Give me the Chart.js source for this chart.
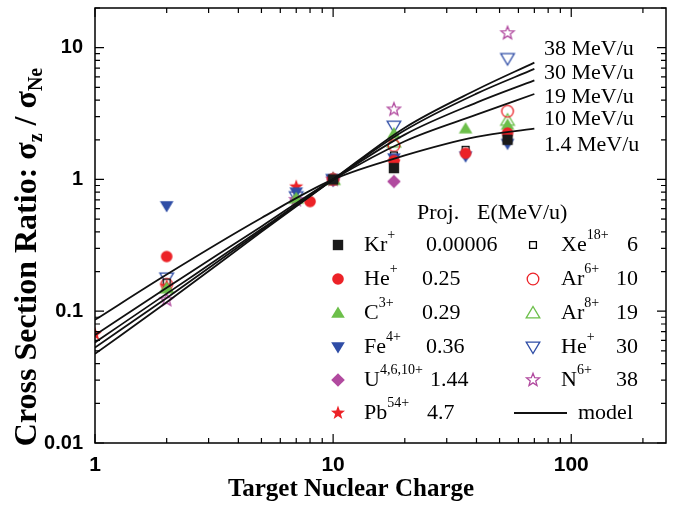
<!DOCTYPE html>
<html>
<head>
<meta charset="utf-8">
<script src="https://cdn.jsdelivr.net/npm/chart.js@4.4.0/dist/chart.umd.min.js"></script>
<style>
  html, body { margin: 0; padding: 0; background: #fff; }
</style>
</head>
<body>
<canvas id="chart" width="677" height="508"></canvas>
<script>
// --- data ---
const modelX = [1, 2, 5, 10, 20, 40, 70];
const model14 = [0.086, 0.19, 0.51, 1, 1.52, 2.1, 2.43];
const model10 = [0.066, 0.151, 0.44, 1, 1.95, 3.1, 4.45];
const model19 = [0.058, 0.136, 0.42, 1, 2.19, 3.83, 5.65];
const model30 = [0.053, 0.126, 0.41, 1, 2.36, 4.48, 6.9];
const model38 = [0.0475, 0.117, 0.40, 1, 2.47, 4.79, 7.7];
const modelLabels = ['1.4 MeV/u', '10 MeV/u', '19 MeV/u', '30 MeV/u', '38 MeV/u'];

const krX = [10, 18, 54];           const krY = [1, 1.22, 2.0];
const heLowX = [2, 8, 10, 18, 36, 54]; const heLowY = [0.26, 0.68, 1, 1.39, 1.58, 2.25];
const cX = [2, 7, 10, 18, 36, 54];   const cY = [0.15, 0.72, 1, 2.23, 2.43, 2.6];
const feX = [2, 7, 10, 18, 36, 54];  const feY = [0.63, 0.80, 1, 1.45, 1.5, 1.87];
const uX = [7, 10, 18];              const uY = [0.70, 1, 0.965];
const pbX = [1, 2, 7, 10, 18];       const pbY = [0.067, 0.155, 0.88, 1, 1.35];
const xeX = [2, 10, 18, 36, 54];     const xeY = [0.165, 1, 1.52, 1.68, 2.12];
const ar6X = [2, 10, 18, 54];        const ar6Y = [0.16, 1, 1.81, 3.29];
const ar8X = [2, 7, 10, 18, 54];     const ar8Y = [0.15, 0.72, 1, 1.92, 2.81];
const heHiX = [2, 7, 10, 18, 54];    const heHiY = [0.179, 0.74, 1, 2.54, 8.28];
const nX = [2, 7, 10, 18, 54];       const nY = [0.122, 0.70, 1, 3.4, 12.9];

const projNames = ['Kr', 'He', 'C', 'Fe', 'U', 'Pb', 'Xe', 'Ar', 'Ar', 'He', 'N'];
const projCharges = ['+', '+', '3+', '4+', '4,6,10+', '54+', '18+', '6+', '8+', '+', '6+'];
const projEnergies = ['0.00006', '0.25', '0.29', '0.36', '1.44', '4.7', '6', '10', '19', '30', '38'];

const RED = '#ec2227', GREEN = '#6cbf4a', BLUE = '#2f4da6', MAGENTA = '#b14a9f', BLACK = '#1a1a1a';
const SERIF = '"Liberation Serif", "DejaVu Serif", serif';
const SANS = '"Liberation Sans", Arial, sans-serif';

// --- marker drawing ---
function drawMarker(ctx, shape, x, y, color, filled) {
    ctx.save();
    ctx.fillStyle = color;
    ctx.strokeStyle = color;
    ctx.lineWidth = 1.3;
    ctx.beginPath();
    switch (shape) {
        case 'square': {
            const s = filled ? 5.2 : 3.4;
            ctx.rect(x - s, y - s, 2 * s, 2 * s);
            break;
        }
        case 'circle':
            ctx.arc(x, y, 5.8, 0, Math.PI * 2);
            break;
        case 'up':
            ctx.moveTo(x - 6.8, y + 4.8);
            ctx.lineTo(x + 6.8, y + 4.8);
            ctx.lineTo(x, y - 6.6);
            ctx.closePath();
            break;
        case 'down':
            ctx.moveTo(x - 6.8, y - 4.8);
            ctx.lineTo(x + 6.8, y - 4.8);
            ctx.lineTo(x, y + 6.6);
            ctx.closePath();
            break;
        case 'diamond':
            ctx.moveTo(x, y - 6.8);
            ctx.lineTo(x + 6.8, y);
            ctx.lineTo(x, y + 6.8);
            ctx.lineTo(x - 6.8, y);
            ctx.closePath();
            break;
        case 'star': {
            const ro = filled ? 7.4 : 6.8, ri = filled ? 3.0 : 2.9;
            for (let i = 0; i < 10; i++) {
                const r = i % 2 === 0 ? ro : ri;
                const a = -Math.PI / 2 + i * Math.PI / 5;
                const px = x + r * Math.cos(a), py = y + r * Math.sin(a);
                if (i === 0) ctx.moveTo(px, py); else ctx.lineTo(px, py);
            }
            ctx.closePath();
            break;
        }
    }
    if (filled) {
        ctx.fill();
    } else {
        if (shape === 'square') {
            ctx.fillStyle = '#fff';
            ctx.fill();
            ctx.strokeStyle = '#000';
        }
        ctx.stroke();
    }
    ctx.restore();
}

function markerCanvas(shape, color, filled) {
    const cv = document.createElement('canvas');
    cv.width = 20;
    cv.height = 20;
    drawMarker(cv.getContext('2d'), shape, 10, 10, color, filled);
    return cv;
}

function pts(xs, ys) {
    return xs.map((x, i) => ({ x: x, y: ys[i] }));
}

// series: marker shape/colour/fill, same order as the legend arrays
const seriesDefs = [
    { xs: krX, ys: krY, shape: 'square', color: BLACK, filled: true },
    { xs: heLowX, ys: heLowY, shape: 'circle', color: RED, filled: true },
    { xs: cX, ys: cY, shape: 'up', color: GREEN, filled: true },
    { xs: feX, ys: feY, shape: 'down', color: BLUE, filled: true },
    { xs: uX, ys: uY, shape: 'diamond', color: MAGENTA, filled: true },
    { xs: pbX, ys: pbY, shape: 'star', color: RED, filled: true },
    { xs: xeX, ys: xeY, shape: 'square', color: '#000', filled: false },
    { xs: ar6X, ys: ar6Y, shape: 'circle', color: RED, filled: false },
    { xs: ar8X, ys: ar8Y, shape: 'up', color: GREEN, filled: false },
    { xs: heHiX, ys: heHiY, shape: 'down', color: BLUE, filled: false },
    { xs: nX, ys: nY, shape: 'star', color: MAGENTA, filled: false }
];

const datasets = [];
seriesDefs.forEach((s, i) => {
    datasets.push({
        type: 'scatter',
        label: projNames[i] + projCharges[i],
        data: pts(s.xs, s.ys),
        pointStyle: markerCanvas(s.shape, s.color, s.filled),
        pointRadius: 7,
        showLine: false,
        order: 2
    });
});
[model14, model10, model19, model30, model38].forEach((m, i) => {
    datasets.push({
        type: 'line',
        label: modelLabels[i],
        data: pts(modelX, m),
        borderColor: '#111',
        borderWidth: 1.8,
        pointRadius: 0,
        fill: false,
        cubicInterpolationMode: 'monotone',
        order: 1
    });
});

// draws text parts with superscripts / subscripts
function drawRich(ctx, x, y, parts, size, weight) {
    let cx = x;
    parts.forEach(p => {
        const sz = p.sup || p.sub ? Math.round(size * 0.62) : size;
        ctx.font = `${weight} ${sz}px ${SERIF}`;
        const dy = p.sup ? -size * 0.42 : (p.sub ? size * 0.28 : 0);
        ctx.fillText(p.t, cx, y + dy);
        cx += ctx.measureText(p.t).width;
    });
    return cx - x;
}
function richWidth(ctx, parts, size, weight) {
    let w = 0;
    parts.forEach(p => {
        const sz = p.sup || p.sub ? Math.round(size * 0.62) : size;
        ctx.font = `${weight} ${sz}px ${SERIF}`;
        w += ctx.measureText(p.t).width;
    });
    return w;
}

const framePlugin = {
    id: 'frame',
    afterDraw(chart) {
        const ctx = chart.ctx;
        const a = chart.chartArea;
        const xs = chart.scales.x, ys = chart.scales.y;
        ctx.save();
        ctx.strokeStyle = '#000';
        ctx.lineWidth = 1.5;
        ctx.strokeRect(a.left, a.top, a.right - a.left, a.bottom - a.top);

        // inward ticks on all four sides
        ctx.lineWidth = 1.2;
        ctx.beginPath();
        for (let e = 0; e <= 2; e++) {
            for (let m = 1; m <= 9; m++) {
                const v = m * Math.pow(10, e);
                if (v > xs.max) break;
                const px = xs.getPixelForValue(v);
                const len = m === 1 ? 9 : 5;
                ctx.moveTo(px, a.bottom); ctx.lineTo(px, a.bottom - len);
                ctx.moveTo(px, a.top); ctx.lineTo(px, a.top + len);
            }
        }
        for (let e = -2; e <= 1; e++) {
            for (let m = 1; m <= 9; m++) {
                const v = m * Math.pow(10, e);
                if (v > ys.max) break;
                const py = ys.getPixelForValue(v);
                const len = m === 1 ? 9 : 5;
                ctx.moveTo(a.left, py); ctx.lineTo(a.left + len, py);
                ctx.moveTo(a.right, py); ctx.lineTo(a.right - len, py);
            }
        }
        ctx.stroke();

        ctx.fillStyle = '#000';
        ctx.textBaseline = 'middle';
        ctx.textAlign = 'left';

        // model curve labels
        ctx.font = `22px ${SERIF}`;
        ctx.fillText('38 MeV/u', 544, 49);
        ctx.fillText('30 MeV/u', 544, 73);
        ctx.fillText('19 MeV/u', 544, 97);
        ctx.fillText('10 MeV/u', 544, 119);
        ctx.fillText('1.4 MeV/u', 544, 145);

        // legend
        ctx.font = `22px ${SERIF}`;
        ctx.fillText('Proj.', 417, 213);
        ctx.fillText('E(MeV/u)', 477, 213);
        const rowY = [245, 279, 313, 347, 380, 413];
        const leftValX = [426, 422, 422, 426, 430, 427];
        seriesDefs.forEach((s, i) => {
            const col = i < 6 ? 0 : 1;
            const y = rowY[col === 0 ? i : i - 6];
            const mx = col === 0 ? 338 : 533;
            drawMarker(ctx, s.shape, mx, y, s.color, s.filled);
            ctx.fillStyle = '#000';
            ctx.textAlign = 'left';
            drawRich(ctx, col === 0 ? 364 : 561, y,
                [{ t: projNames[i] }, { t: projCharges[i], sup: true }], 22, 'normal');
            ctx.font = `22px ${SERIF}`;
            if (col === 0) {
                ctx.fillText(projEnergies[i], leftValX[i], y);
            } else {
                ctx.textAlign = 'right';
                ctx.fillText(projEnergies[i], 638, y);
                ctx.textAlign = 'left';
            }
        });
        ctx.lineWidth = 1.8;
        ctx.strokeStyle = '#111';
        ctx.beginPath();
        ctx.moveTo(514, 413); ctx.lineTo(567, 413);
        ctx.stroke();
        ctx.font = `22px ${SERIF}`;
        ctx.fillText('model', 578, 413);

        // axis titles
        ctx.font = `bold 25px ${SERIF}`;
        ctx.textAlign = 'center';
        ctx.fillText('Target Nuclear Charge', 351, 490);

        const yParts = [
            { t: 'Cross Section Ratio: \u03c3' }, { t: 'z', sub: true },
            { t: ' / \u03c3' }, { t: 'Ne', sub: true }
        ];
        ctx.translate(28, 257);
        ctx.rotate(-Math.PI / 2);
        ctx.textAlign = 'left';
        const w = richWidth(ctx, yParts, 32, 'bold');
        drawRich(ctx, -w / 2, 0, yParts, 32, 'bold');
        ctx.restore();
    }
};

function decadeLabel(v) {
    const l = Math.log10(v);
    if (Math.abs(l - Math.round(l)) < 1e-9) {
        return String(Math.round(v * 100) / 100);
    }
    return '';
}

new Chart(document.getElementById('chart'), {
    type: 'scatter',
    data: { datasets: datasets },
    options: {
        responsive: false,
        animation: false,
        layout: { padding: { top: 8, right: 11, left: 0, bottom: 0 } },
        plugins: {
            legend: { display: false },
            tooltip: { enabled: false }
        },
        scales: {
            x: {
                type: 'logarithmic',
                min: 1,
                max: 250,
                grid: { display: false, drawTicks: false },
                border: { display: false },
                ticks: {
                    autoSkip: false,
                    maxRotation: 0,
                    padding: 10,
                    color: '#000',
                    font: { family: SANS, weight: 'bold', size: 21 },
                    callback: decadeLabel
                },
                afterFit: scale => {
                    scale.height = 65;
                    scale.paddingLeft = 0;
                    scale.paddingRight = 0;
                }
            },
            y: {
                type: 'logarithmic',
                min: 0.01,
                max: 20,
                grid: { display: false, drawTicks: false },
                border: { display: false },
                ticks: {
                    autoSkip: false,
                    padding: 12,
                    color: '#000',
                    font: { family: SANS, weight: 'bold', size: 20 },
                    callback: decadeLabel
                },
                afterFit: scale => {
                    scale.width = 95;
                    scale.paddingTop = 0;
                    scale.paddingBottom = 0;
                }
            }
        }
    },
    plugins: [framePlugin]
});
</script>
</body>
</html>
